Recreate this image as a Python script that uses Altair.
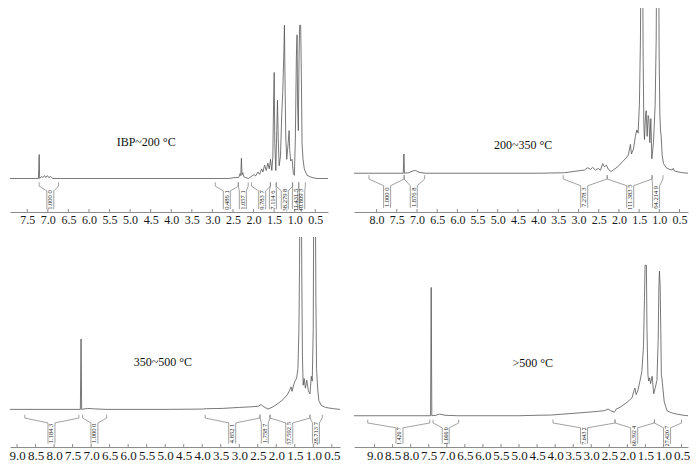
import altair as alt
import pandas as pd

SERIF = "Liberation Serif"

# ---------------- Panel 1: IBP~200 °C ----------------
P1_TITLE = "IBP~200 °C"
P1_PPM = [7.95, 7.30, 7.23, 7.21, 7.20, 7.15, 7.12, 7.08, 7.05, 7.01, 6.98, 6.93, 6.88, 6.70,
          2.60, 2.45, 2.36, 2.33, 2.31, 2.295, 2.28, 2.26, 2.24, 2.20, 2.12, 2.07, 1.99, 1.949,
          1.893, 1.853, 1.804, 1.772, 1.732, 1.691, 1.652, 1.618, 1.587, 1.556, 1.531, 1.514,
          1.498, 1.483, 1.459, 1.435, 1.418, 1.401, 1.377, 1.345, 1.314, 1.290, 1.266, 1.249,
          1.232, 1.217, 1.193, 1.159, 1.135, 1.121, 1.097, 1.063, 1.031, 1.007, 0.983, 0.959,
          0.942, 0.928, 0.911, 0.894, 0.879, 0.855, 0.838, 0.821, 0.797, 0.766, 0.700, 0.580,
          0.459, 0.19]
P1_INT = [0, 0, 0, 25, 0, 2, 1, 3, 1, 3, 1, 2, 0, 0,
          0, 1, 1, 5, 3, 21, 4, 6, 2, 1, 0, 1.7, 4, 2.7,
          6.7, 4.3, 10, 6.7, 14, 8.3, 16, 10, 20, 8.3, 22.7, 76,
          110.7, 36.7, 8.3, 50, 81.7, 43.3, 13.3, 23.3, 66.7, 90, 126.7, 160,
          93.3, 43.3, 20, 36.7, 50, 30, 18.3, 20, 5, 3.3, 43.3, 126.7,
          150, 76.7, 50, 126.7, 160, 160, 110, 36.7, 20, 10, 3.3, 1,
          0, 0]
P1_START = [7.21, 2.93, 2.37, 2.05, 1.59, 1.45, 1.05, 0.90]
P1_END = [6.74, 2.37, 2.13, 1.59, 1.45, 1.05, 0.90, 0.74]
P1_CENTER = [6.94, 2.65, 2.26, 1.79, 1.53, 1.24, 0.97, 0.84]
P1_LABEL = ["1.000 0", "0.486 1", "1.057 1", "9.783 7", "7.114 6", "38.279 8", "11.431 5", "40.809 3"]
P1_TICKS = [7.5, 7.0, 6.5, 6.0, 5.5, 5.0, 4.5, 4.0, 3.5, 3.0, 2.5, 2.0, 1.5, 1.0, 0.5]

# ---------------- Panel 2: 200~350 °C ----------------
P2_TITLE = "200~350 °C"
P2_PPM = [8.56, 7.40, 7.34, 7.324, 7.31, 7.20, 7.10, 7.03, 6.95, 6.80, 4.00, 3.35, 2.857, 2.773,
          2.708, 2.649, 2.584, 2.510, 2.460, 2.401, 2.361, 2.311, 2.262, 2.195, 2.029, 1.904,
          1.823, 1.766, 1.716, 1.691, 1.641, 1.592, 1.557, 1.525, 1.493, 1.468, 1.450, 1.418,
          1.401, 1.383, 1.368, 1.344, 1.326, 1.301, 1.277, 1.259, 1.235, 1.210, 1.185, 1.145,
          1.103, 1.078, 1.061, 1.021, 1.004, 0.987, 0.971, 0.954, 0.929, 0.897, 0.830, 0.748,
          0.681, 0.656, 0.624, 0.458, 0.29]
P2_INT = [0, 0, 0, 20, 0, 0.5, 2.5, 2.7, 1, 0, 0, 0.5, 3.3, 5.7,
          4, 6, 3.3, 5, 3, 10, 6.7, 8.3, 4, 1.7, 6.7, 12.3,
          15.7, 19, 30, 20, 25, 38.3, 45, 41.7, 71.7, 138.3, 260, 260,
          121.7, 51.7, 35, 58.3, 65, 38.3, 60, 56.7, 31.7, 56.7, 15, 31.7,
          71.7, 138.3, 260, 260, 121.7, 61.7, 45, 38.3, 18.3, 10, 5.7, 4,
          3.3, 5, 2.3, 0.7, 0]
P2_START = [8.19, 7.32, 3.38, 2.29, 1.18]
P2_END = [7.32, 6.81, 2.29, 1.18, 0.91]
P2_CENTER = [7.74, 7.08, 2.86, 1.72, 1.08]
P2_LABEL = ["1.000 0", "1.876 8", "7.278 3", "111.383 5", "64.214 9"]
P2_TICKS = [8.0, 7.5, 7.0, 6.5, 6.0, 5.5, 5.0, 4.5, 4.0, 3.5, 3.0, 2.5, 2.0, 1.5, 1.0, 0.5]

# ---------------- Panel 3: 350~500 °C ----------------
P3_TITLE = "350~500 °C"
P3_PPM = [9.19, 7.29, 7.272, 7.255, 7.10, 6.90, 6.60, 5.00, 4.00, 3.894, 3.452, 3.013, 2.659,
          2.484, 2.413, 2.368, 2.307, 2.220, 2.087, 1.955, 1.823, 1.706, 1.646, 1.601, 1.574,
          1.532, 1.487, 1.452, 1.416, 1.389, 1.373, 1.354, 1.328, 1.310, 1.294, 1.275, 1.249,
          1.214, 1.178, 1.135, 1.090, 1.055, 1.029, 1.003, 0.984, 0.950, 0.931, 0.913, 0.897,
          0.878, 0.852, 0.791, 0.675, 0.455, 0.28]
P3_INT = [0, 0, 73, 0, 1, 0.5, 0, 0, 0.3, 0.7, 1, 2, 2.7,
          3.3, 5, 3.7, 2, 0.3, 2.7, 6, 10, 15, 19.3, 23.3, 18.7,
          25.3, 30, 32.3, 42.3, 82.3, 149, 260, 260, 132, 55, 25, 32,
          22, 30.3, 19.3, 16, 34.3, 29.3, 82.7, 260, 260, 115.7, 42.3, 31,
          19.3, 9.3, 4.3, 2, 0.7, 0]
P3_START = [8.79, 7.23, 3.92, 2.44, 2.17, 1.09]
P3_END = [7.33, 6.58, 2.44, 2.17, 1.09, 0.76]
P3_CENTER = [8.07, 6.91, 3.19, 2.31, 1.65, 0.93]
P3_LABEL = ["1.184 3", "1.000 0", "4.852 1", "1.758 7", "57.592 5", "28.713 7"]
P3_TICKS = [9.0, 8.5, 8.0, 7.5, 7.0, 6.5, 6.0, 5.5, 5.0, 4.5, 4.0, 3.5, 3.0, 2.5, 2.0, 1.5, 1.0, 0.5]

# ---------------- Panel 4: >500 °C ----------------
P4_TITLE = ">500 °C"
P4_PPM = [9.57, 7.45, 7.432, 7.415, 7.30, 7.20, 7.05, 6.70, 5.00, 4.50, 4.128, 3.422, 2.890,
          2.625, 2.535, 2.465, 2.359, 2.314, 2.181, 2.003, 1.870, 1.817, 1.791, 1.756, 1.711,
          1.650, 1.597, 1.552, 1.525, 1.509, 1.472, 1.456, 1.430, 1.411, 1.384, 1.358, 1.313,
          1.270, 1.225, 1.180, 1.145, 1.127, 1.111, 1.092, 1.074, 1.058, 1.039, 1.013, 0.978,
          0.898, 0.720, 0.633, 0.410, 0.32]
P4_INT = [0, 0, 133, 0, 0.5, 1.7, 0.5, 0, 0, 0.5, 0.7, 2.7, 4.3,
          5.3, 7, 5.3, 3.7, 6.7, 9.3, 14, 18.7, 26, 28.7, 22, 26,
          36, 46, 72.7, 122.7, 156, 156, 89.3, 42.7, 36, 39.3, 33.3, 41,
          22.7, 29.3, 36.7, 79.3, 132.7, 150, 136, 89.3, 42.7, 37.7, 27.7, 14.3,
          5, 2.3, 1.7, 0.3, 0]
P4_START = [9.19, 7.38, 4.06, 2.34, 1.25]
P4_END = [7.47, 6.67, 2.34, 1.25, 0.50]
P4_CENTER = [8.31, 7.03, 3.20, 1.81, 0.90]
P4_LABEL = ["1.420 7", "1.000 0", "7.643 2", "60.392 4", "27.420 7"]
P4_TICKS = [9.0, 8.5, 8.0, 7.5, 7.0, 6.5, 6.0, 5.5, 5.0, 4.5, 4.0, 3.5, 3.0, 2.5, 2.0, 1.5, 1.0, 0.5]

# layout / style per panel (not data)
PANELS = [
    dict(ppm=P1_PPM, inten=P1_INT, starts=P1_START, ends=P1_END, centers=P1_CENTER, labels=P1_LABEL,
         ticks=P1_TICKS, title=P1_TITLE, W=318, H=204, xdom=[0.19, 7.92], ydom=[-35, 178],
         tpos=(4.61, 38), tick_fs=12, lab_fs=6.5, br=(-4, -8, -13, -32, -22.5)),
    dict(ppm=P2_PPM, inten=P2_INT, starts=P2_START, ends=P2_END, centers=P2_CENTER, labels=P2_LABEL,
         ticks=P2_TICKS, title=P2_TITLE, W=334, H=204, xdom=[0.29, 8.56], ydom=[-40.3, 171.7],
         tpos=(4.37, 29), tick_fs=12, lab_fs=6.5, br=(-2, -6, -13, -36, -25)),
    dict(ppm=P3_PPM, inten=P3_INT, starts=P3_START, ends=P3_END, centers=P3_CENTER, labels=P3_LABEL,
         ticks=P3_TICKS, title=P3_TITLE, W=330, H=210, xdom=[0.28, 9.19], ydom=[-39, 178.7],
         tpos=(5.06, 49.4), tick_fs=13, lab_fs=6.5, br=(-5.5, -9, -14, -35.5, -25)),
    dict(ppm=P4_PPM, inten=P4_INT, starts=P4_START, ends=P4_END, centers=P4_CENTER, labels=P4_LABEL,
         ticks=P4_TICKS, title=P4_TITLE, W=334, H=210, xdom=[0.32, 9.57], ydom=[-32.4, 185.3],
         tpos=(4.62, 54.3), tick_fs=13, lab_fs=5.8, br=(-4, -7.5, -12.5, -29, -21)),
]

LINE_COLOR = "#555555"
BRACKET_COLOR = "#7a7a7a"
AXIS_COLOR = "#8c8c8c"


def make_panel(cfg):
    W, H = cfg["W"], cfg["H"]
    xs = alt.Scale(domain=cfg["xdom"], reverse=True, nice=False, zero=False)
    ys = alt.Scale(domain=cfg["ydom"], nice=False, zero=False)
    ax = alt.Axis(values=cfg["ticks"], format=".1f", ticks=False, grid=False,
                  domainColor=AXIS_COLOR, domainWidth=1, labelFont=SERIF,
                  labelFontSize=cfg["tick_fs"], labelColor="#1a1a1a", labelPadding=2,
                  labelOverlap=False, labelFlush=False, labelBound=False, title=None)

    def X():
        return alt.X("ppm:Q", scale=xs, axis=ax)

    def Y():
        return alt.Y("h:Q", scale=ys, axis=None)

    spec_df = pd.DataFrame({"ppm": cfg["ppm"], "h": cfg["inten"]})
    spec_df["i"] = range(len(spec_df))
    spectrum = alt.Chart(spec_df).mark_line(color=LINE_COLOR, strokeWidth=0.8, clip=True).encode(
        x=X(), y=Y(), order="i:Q")

    # integration brackets built from the integral regions
    t0, t1, v, b, mid = cfg["br"]
    w = 3.5 * (cfg["xdom"][1] - cfg["xdom"][0]) / W
    rows = []
    for k, (s, e, c) in enumerate(zip(cfg["starts"], cfg["ends"], cfg["centers"])):
        for side, endp, cx in (("L", s, c + w), ("R", e, c - w)):
            g = f"{k}{side}"
            pts = [(endp, t0), (endp, t1), (cx, v), (cx, b)]
            for o, (px, py) in enumerate(pts):
                rows.append({"ppm": px, "h": py, "g": g, "o": o})
    br_df = pd.DataFrame(rows)
    brackets = alt.Chart(br_df).mark_line(color=BRACKET_COLOR, strokeWidth=0.7).encode(
        x=X(), y=Y(), detail="g:N", order="o:Q")

    lab_df = pd.DataFrame({"ppm": cfg["centers"], "h": [mid] * len(cfg["centers"]),
                           "label": cfg["labels"]})
    labels = alt.Chart(lab_df).mark_text(angle=270, font=SERIF, fontSize=cfg["lab_fs"],
                                         color="#222222", align="center", baseline="middle").encode(
        x=X(), y=Y(), text="label:N")

    tick_df = pd.DataFrame({"ppm": cfg["ticks"]})
    ticks = alt.Chart(tick_df).mark_rule(color=AXIS_COLOR, strokeWidth=1).encode(
        x=X(), y=alt.value(H), y2=alt.value(H - 3))

    title_df = pd.DataFrame({"ppm": [cfg["tpos"][0]], "h": [cfg["tpos"][1]], "t": [cfg["title"]]})
    title = alt.Chart(title_df).mark_text(font=SERIF, fontSize=12, color="#111111",
                                          align="center", baseline="middle").encode(
        x=X(), y=Y(), text="t:N")

    return alt.layer(spectrum, brackets, ticks, labels, title).properties(width=W, height=H)


p1, p2, p3, p4 = [make_panel(c) for c in PANELS]
chart = alt.concat(p1, p2, p3, p4, columns=2, spacing={"row": 25, "column": 14},
                   bounds="flush").properties(
    padding={"left": 0, "right": 0, "top": 0, "bottom": 0}
).configure_view(stroke=None)

chart.save("out.html", embed_options={"renderer": "svg", "actions": False})
